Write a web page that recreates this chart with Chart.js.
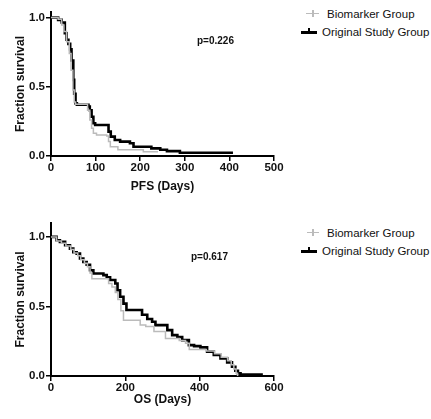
<!DOCTYPE html>
<html>
<head>
<meta charset="utf-8">
<script src="https://cdn.jsdelivr.net/npm/chart.js@4.4.0/dist/chart.umd.min.js"></script>
<style>
  html, body { margin: 0; padding: 0; background: #fff; }
  #page { position: relative; width: 431px; height: 419px; overflow: hidden;
          font-family: 'Liberation Sans', Arial, sans-serif; color: #111; }
  .box { position: absolute; left: 0; width: 290px; }
  .lg { position: absolute; font-size: 11.5px; line-height: 14px; white-space: nowrap; }
  .sym { position: absolute; }
  .pval { position: absolute; font-size: 10px; font-weight: bold; line-height: 12px; white-space: nowrap; }
</style>
</head>
<body>
<div id="page">
  <div class="box" style="top:0;height:200px"><canvas id="chartPfs"></canvas></div>
  <div class="box" style="top:200px;height:219px"><canvas id="chartOs"></canvas></div>

  <div class="pval" style="left:197px;top:35px">p=0.226</div>
  <div class="pval" style="left:191px;top:251px">p=0.617</div>

  <!-- legend PFS -->
  <div class="sym" style="left:306px;top:13px;width:13px;border-top:1.5px solid #bbb"></div>
  <div class="sym" style="left:312px;top:10px;width:1.5px;height:7px;background:#bbb"></div>
  <div class="lg" style="left:327px;top:7px">Biomarker Group</div>
  <div class="sym" style="left:301px;top:31px;width:16px;border-top:3px solid #000"></div>
  <div class="sym" style="left:308px;top:28px;width:2px;height:4px;background:#000"></div>
  <div class="lg" style="left:322px;top:25px">Original Study Group</div>

  <!-- legend OS -->
  <div class="sym" style="left:307px;top:232px;width:12px;border-top:1.5px solid #bbb"></div>
  <div class="sym" style="left:312px;top:229px;width:1.5px;height:7px;background:#bbb"></div>
  <div class="lg" style="left:327px;top:226px">Biomarker Group</div>
  <div class="sym" style="left:301px;top:250px;width:16px;border-top:3px solid #000"></div>
  <div class="sym" style="left:308px;top:247px;width:2px;height:4px;background:#000"></div>
  <div class="lg" style="left:322px;top:244px">Original Study Group</div>
</div>

<script>
'use strict';

// ── Data ──────────────────────────────────────────────────────────────────────

const seriesNames = ['Biomarker Group', 'Original Study Group'];
const yTickVals = [0, 0.5, 1.0];

// PFS – Biomarker Group
const pfsBioDays = [0, 16, 24, 29, 35, 41, 45, 49, 52, 55, 82, 87, 91, 95, 102, 125, 129, 133, 150, 207, 240];
const pfsBioSurv = [1.0, 0.988, 0.947, 0.9, 0.826, 0.74, 0.62, 0.477, 0.39, 0.373, 0.33, 0.26, 0.2, 0.164, 0.152, 0.145, 0.104, 0.067, 0.045, 0.03, 0.03];

// PFS – Original Study Group
const pfsOrigDays = [0, 16, 24, 31, 35, 39, 43, 46, 50, 52, 55, 58, 84, 87, 91, 95, 99, 129, 134, 143, 155, 177, 185, 225, 245, 260, 289, 408];
const pfsOrigSurv = [1.0, 0.983, 0.964, 0.887, 0.84, 0.81, 0.77, 0.69, 0.55, 0.45, 0.38, 0.37, 0.357, 0.33, 0.284, 0.236, 0.224, 0.176, 0.14, 0.116, 0.104, 0.092, 0.067, 0.055, 0.045, 0.035, 0.024, 0.024];

// OS – Biomarker Group
const osBioDays = [0, 15, 28, 40, 53, 62, 72, 80, 90, 98, 105, 110, 155, 164, 173, 180, 188, 195, 240, 255, 277, 308, 345, 362, 372, 418, 440, 458, 475, 485, 492, 498, 502];
const osBioSurv = [1.0, 0.97, 0.955, 0.935, 0.91, 0.885, 0.865, 0.835, 0.81, 0.785, 0.74, 0.70, 0.665, 0.64, 0.60, 0.55, 0.47, 0.40, 0.366, 0.355, 0.32, 0.27, 0.255, 0.235, 0.19, 0.18, 0.16, 0.135, 0.11, 0.08, 0.05, 0.02, 0.0];

// OS – Original Study Group
const osOrigDays = [0, 15, 24, 38, 51, 60, 69, 78, 87, 96, 105, 114, 141, 150, 159, 173, 179, 186, 195, 203, 245, 259, 272, 281, 313, 326, 340, 353, 371, 385, 402, 420, 438, 456, 474, 487, 496, 503, 510, 570];
const osOrigSurv = [1.0, 0.976, 0.964, 0.94, 0.916, 0.89, 0.88, 0.845, 0.82, 0.80, 0.76, 0.737, 0.725, 0.71, 0.69, 0.665, 0.617, 0.57, 0.52, 0.474, 0.44, 0.41, 0.39, 0.366, 0.33, 0.294, 0.28, 0.258, 0.222, 0.215, 0.206, 0.175, 0.151, 0.127, 0.098, 0.067, 0.038, 0.019, 0.01, 0.01];

// ── Helpers ───────────────────────────────────────────────────────────────────

const FONT = "'Liberation Sans', Arial, sans-serif";
const GREY_LINE = '#bbbbbb';

const toPoints = (days, surv) => days.map((d, i) => ({ x: d, y: surv[i] }));

function kmChart(id, cfg) {
  const axisGrid = { drawOnChartArea: false, drawTicks: true, tickLength: 5, color: '#000', lineWidth: 1.5 };
  const axisBorder = { display: true, color: '#000', width: 2 };
  const tickFont = { family: FONT, size: 11.5, weight: 'bold' };

  return new Chart(document.getElementById(id), {
    type: 'line',
    data: {
      datasets: [
        {
          label: seriesNames[0],
          data: toPoints(cfg.bioDays, cfg.bioSurv),
          borderColor: GREY_LINE,
          borderWidth: 1.5,
        },
        {
          label: seriesNames[1],
          data: toPoints(cfg.origDays, cfg.origSurv),
          borderColor: '#000',
          borderWidth: 2.6,
        },
      ],
    },
    options: {
      responsive: true,
      maintainAspectRatio: false,
      animation: false,
      parsing: false,
      elements: {
        line: { stepped: true, tension: 0, fill: false },
        point: { radius: 0 },
      },
      layout: { padding: { top: cfg.padTop, right: 16, left: 0, bottom: 0 } },
      plugins: { legend: { display: false }, tooltip: { enabled: false } },
      scales: {
        x: {
          type: 'linear',
          min: 0,
          max: cfg.xMax,
          ticks: { stepSize: cfg.xStep, color: '#111', font: tickFont, padding: 0, maxRotation: 0 },
          grid: axisGrid,
          border: axisBorder,
          title: {
            display: true,
            text: cfg.xTitle,
            color: '#111',
            font: { family: FONT, size: 12, weight: 'bold' },
            padding: { top: 0, bottom: cfg.xTitlePad },
          },
          afterFit: s => { s.height = cfg.xAxisH; },
        },
        y: {
          type: 'linear',
          min: 0,
          max: cfg.yMax,
          afterBuildTicks: s => { s.ticks = yTickVals.map(v => ({ value: v })); },
          ticks: { callback: v => v.toFixed(1), color: '#111', font: tickFont, padding: 1 },
          grid: axisGrid,
          border: axisBorder,
          title: {
            display: true,
            text: 'Fraction survival',
            color: '#111',
            font: { family: FONT, size: 12, weight: 'bold' },
            padding: { top: 13, bottom: 0 },
          },
          afterFit: s => { s.width = 51; },
        },
      },
    },
  });
}

// ── 1. PFS ────────────────────────────────────────────────────────────────────

kmChart('chartPfs', {
  bioDays: pfsBioDays, bioSurv: pfsBioSurv,
  origDays: pfsOrigDays, origSurv: pfsOrigSurv,
  xMax: 500, xStep: 100, yMax: 1.04,
  padTop: 12, xAxisH: 44, xTitlePad: 6,
  xTitle: 'PFS (Days)',
});

// ── 2. OS ─────────────────────────────────────────────────────────────────────

kmChart('chartOs', {
  bioDays: osBioDays, bioSurv: osBioSurv,
  origDays: osOrigDays, origSurv: osOrigSurv,
  xMax: 600, xStep: 200, yMax: 1.1,
  padTop: 23, xAxisH: 43, xTitlePad: 12,
  xTitle: 'OS (Days)',
});
</script>
</body>
</html>
